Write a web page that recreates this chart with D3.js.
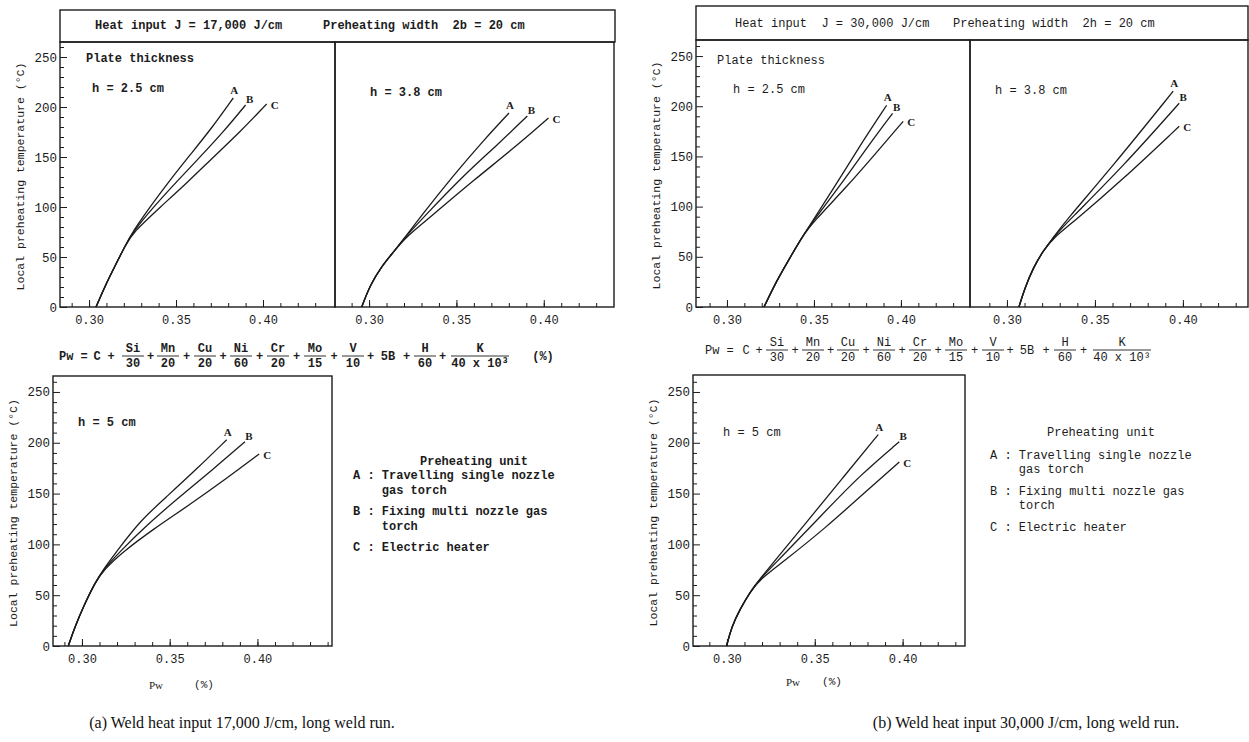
<!DOCTYPE html>
<html>
<head>
<meta charset="utf-8">
<script src="https://cdn.jsdelivr.net/npm/d3@7"></script>
<style>
  body { margin: 0; background: #fff; }
  text { white-space: pre; }
</style>
</head>
<body>
<div id="chart"></div>
<script>
//////////////////////////// DATA ////////////////////////////
// each point: [Pw (%), local preheating temperature (°C)]

// (a) 17,000 J/cm, h = 2.5 cm
var a25_A = [[0.3040,0],[0.3092,21],[0.3149,41],[0.3207,61],[0.3250,75],[0.3350,100],[0.3466,127],[0.3571,150],[0.3715,181],[0.3829,209]];
var a25_B = [[0.3040,0],[0.3092,21],[0.3149,41],[0.3207,61],[0.3252,75],[0.3370,100],[0.3513,127],[0.3638,150],[0.3772,175],[0.3900,202]];
var a25_C = [[0.3040,0],[0.3092,21],[0.3149,41],[0.3207,61],[0.3255,75],[0.3410,100],[0.3580,127],[0.3715,150],[0.3868,175],[0.4021,203]];
// (a) h = 3.8 cm
var a38_A = [[0.2958,0],[0.3006,22],[0.3073,41],[0.3140,55],[0.3207,70],[0.3293,90],[0.3485,132],[0.3657,167],[0.3801,194]];
var a38_B = [[0.2958,0],[0.3006,22],[0.3073,41],[0.3140,55],[0.3207,70],[0.3313,90],[0.3543,132],[0.3734,162],[0.3906,191]];
var a38_C = [[0.2958,0],[0.3006,22],[0.3073,41],[0.3140,55],[0.3210,70],[0.3351,90],[0.3600,127],[0.3830,159],[0.4027,189]];
// (a) h = 5 cm
var a50_A = [[0.2922,0],[0.2960,19],[0.3017,42],[0.3074,62],[0.3121,75],[0.3198,93],[0.3330,123],[0.3483,147],[0.3653,174],[0.3825,203]];
var a50_B = [[0.2922,0],[0.2960,19],[0.3017,42],[0.3074,62],[0.3121,75],[0.3217,93],[0.3369,119],[0.3558,147],[0.3748,174],[0.3929,201]];
var a50_C = [[0.2922,0],[0.2960,19],[0.3017,42],[0.3074,62],[0.3125,75],[0.3236,93],[0.3407,115],[0.3597,137],[0.3825,165],[0.4010,189]];

// (b) 30,000 J/cm, h = 2.5 cm
var b25_A = [[0.3213,0],[0.3285,26],[0.3362,49],[0.3429,69],[0.3487,84],[0.3630,123],[0.3784,166],[0.3918,201]];
var b25_B = [[0.3213,0],[0.3285,26],[0.3362,49],[0.3429,69],[0.3488,84],[0.3659,123],[0.3822,163],[0.3952,193]];
var b25_C = [[0.3213,0],[0.3285,26],[0.3362,49],[0.3429,69],[0.3492,84],[0.3690,120],[0.3855,153],[0.4013,185]];
// (b) h = 3.8 cm
var b38_A = [[0.3068,0],[0.3102,19],[0.3149,39],[0.3206,56],[0.3263,69],[0.3330,85],[0.3600,140],[0.3945,215]];
var b38_B = [[0.3068,0],[0.3102,19],[0.3149,39],[0.3206,56],[0.3263,69],[0.3345,85],[0.3660,140],[0.3979,203]];
var b38_C = [[0.3068,0],[0.3102,19],[0.3149,39],[0.3206,56],[0.3265,69],[0.3380,85],[0.3652,126],[0.3979,180]];
// (b) h = 5 cm
var b50_A = [[0.2998,0],[0.3027,19],[0.3074,36],[0.3131,53],[0.3188,66],[0.3283,86],[0.3454,122],[0.3643,162],[0.3861,208]];
var b50_B = [[0.2998,0],[0.3027,19],[0.3074,36],[0.3131,53],[0.3188,66],[0.3302,86],[0.3529,127],[0.3757,168],[0.3981,201]];
var b50_C = [[0.2998,0],[0.3027,19],[0.3074,36],[0.3131,53],[0.3190,66],[0.3321,83],[0.3560,116],[0.3790,152],[0.3981,181]];

var unitIds = ["A", "B", "C"];
var pwMajor = [0.30, 0.35, 0.40];
var tempMajor = [0, 50, 100, 150, 200, 250];
var yTitle = "Local preheating temperature (°C)";
var legendTitle = "Preheating unit";
var legendLines = ["A : Travelling single nozzle", "    gas torch", "B : Fixing multi nozzle gas", "    torch", "C : Electric heater"];
var formulaFrac = [["Si","30"],["Mn","20"],["Cu","20"],["Ni","60"],["Cr","20"],["Mo","15"],["V","10"],["5B",""],["H","60"],["K","40 x 10\u00B3"]];
var headers = [["Heat input J = 17,000 J/cm", "Preheating width  2b = 20 cm"],
               ["Heat input  J = 30,000 J/cm", "Preheating width  2h = 20 cm"]];
var captions = ["(a) Weld heat input 17,000 J/cm, long weld run.", "(b) Weld heat input 30,000 J/cm, long weld run."];

//////////////////////////// LAYOUT ////////////////////////////
var ink = "#1c1c1c";
var mono = "'Liberation Mono', 'DejaVu Sans Mono', monospace";
var serif = "'Liberation Serif', 'DejaVu Serif', serif";

var svg = d3.select("#chart")
  .append("svg")
    .attr("width", 1249)
    .attr("height", 742)
    .style("background", "#fff");

// label offsets for A / B / C at the end of each curve
var labelOff = [[1, -8], [4, -6], [8, 1]];

var panels = [
  {fig: 0, x0: 60,  x1: 335,  yTop: 42,  yBot: 307, dom: [0.2833, 0.4414], tmax: 265,   yAxis: true,  series: [a25_A, a25_B, a25_C], h: "h = 2.5 cm", hx: 92,  hy: 89,  plate: [86, 59]},
  {fig: 0, x0: 335, x1: 614,  yTop: 42,  yBot: 307, dom: [0.2805, 0.4402], tmax: 265,   yAxis: false, series: [a38_A, a38_B, a38_C], h: "h = 3.8 cm", hx: 370, hy: 93},
  {fig: 0, x0: 53,  x1: 332,  yTop: 376, yBot: 646, dom: [0.2835, 0.4425], tmax: 265.7, yAxis: true,  series: [a50_A, a50_B, a50_C], h: "h = 5 cm",   hx: 78,  hy: 423},
  {fig: 1, x0: 696, x1: 970,  yTop: 40,  yBot: 307, dom: [0.2822, 0.4397], tmax: 266,   yAxis: true,  series: [b25_A, b25_B, b25_C], h: "h = 2.5 cm", hx: 733, hy: 90,  plate: [717, 61]},
  {fig: 1, x0: 970, x1: 1248, yTop: 40,  yBot: 307, dom: [0.2790, 0.4370], tmax: 266,   yAxis: false, series: [b38_A, b38_B, b38_C], h: "h = 3.8 cm", hx: 995, hy: 91},
  {fig: 1, x0: 693, x1: 965,  yTop: 375, yBot: 646, dom: [0.2807, 0.4355], tmax: 266.7, yAxis: true,  series: [b50_A, b50_B, b50_C], h: "h = 5 cm",   hx: 723, hy: 433}
];

// smooth B-spline through the read points (the originals are drawn with a french curve)
var line = d3.line().curve(d3.curveBasis);

function styleAxis(g) {
  g.select(".domain").remove();
  g.selectAll("line").attr("stroke", ink).attr("stroke-width", 1);
  g.selectAll("text").attr("font-family", mono).attr("fill", ink);
}

//////////////////////////////////////////////
// PANELS
//////////////////////////////////////////////
panels.forEach(function(p) {
  var x = d3.scaleLinear().domain(p.dom).range([p.x0, p.x1]);
  var y = d3.scaleLinear().domain([0, p.tmax]).range([p.yBot, p.yTop]);
  var g = svg.append("g");

  // x ticks: minor every 0.01, major with labels
  var minor = d3.range(28, 45).map(function(i) { return i / 100; })
    .filter(function(v) { return v > p.dom[0] + 0.002 && v < p.dom[1] - 0.002; });
  g.append("g")
    .attr("transform", "translate(0," + p.yBot + ")")
    .call(d3.axisBottom(x).tickValues(minor).tickSize(-4).tickFormat(""))
    .call(styleAxis);
  g.append("g")
    .attr("transform", "translate(0," + p.yBot + ")")
    .call(d3.axisBottom(x).tickValues(pwMajor).tickSize(-7).tickPadding(8).tickFormat(d3.format(".2f")))
    .call(styleAxis)
    .selectAll("text").attr("font-size", "12px");

  if (p.yAxis) {
    var yMinor = d3.range(0, 261, 10).filter(function(v) { return v % 50 !== 0; });
    g.append("g")
      .attr("transform", "translate(" + p.x0 + ",0)")
      .call(d3.axisLeft(y).tickValues(yMinor).tickSize(-4).tickFormat(""))
      .call(styleAxis);
    g.append("g")
      .attr("transform", "translate(" + p.x0 + ",0)")
      .call(d3.axisLeft(y).tickValues(tempMajor).tickSize(-7).tickPadding(3))
      .call(styleAxis)
      .selectAll("text").attr("font-size", "12.5px");

    // y title
    g.append("text")
      .attr("transform", "translate(" + (p.x0 - 40) + "," + ((p.yTop + p.yBot) / 2 + 2) + ")rotate(-90)")
      .attr("text-anchor", "middle")
      .attr("dominant-baseline", "central")
      .attr("font-family", mono)
      .attr("font-size", "11.5px")
      .attr("fill", ink)
      .text(yTitle);
  }

  // frame
  g.append("rect")
    .attr("x", p.x0).attr("y", p.yTop)
    .attr("width", p.x1 - p.x0).attr("height", p.yBot - p.yTop)
    .attr("fill", "none").attr("stroke", ink).attr("stroke-width", 1.4);

  // curves
  p.series.forEach(function(s, i) {
    g.append("path")
      .attr("d", line(s.map(function(d) { return [x(d[0]), y(d[1])]; })))
      .attr("fill", "none")
      .attr("stroke", ink)
      .attr("stroke-width", 1.3);
    var last = s[s.length - 1];
    g.append("text")
      .attr("x", x(last[0]) + labelOff[i][0])
      .attr("y", y(last[1]) + labelOff[i][1])
      .attr("text-anchor", "middle")
      .attr("dominant-baseline", "central")
      .attr("font-family", serif)
      .attr("font-weight", "bold")
      .attr("font-size", "11px")
      .attr("fill", ink)
      .text(unitIds[i]);
  });

  // thickness label
  g.append("text")
    .attr("x", p.hx).attr("y", p.hy)
    .attr("dominant-baseline", "central")
    .attr("font-family", mono).attr("font-size", "12px")
    .attr("font-weight", p.fig === 0 ? "bold" : "normal")
    .attr("fill", ink)
    .text(p.h);
  if (p.plate) {
    g.append("text")
      .attr("x", p.plate[0]).attr("y", p.plate[1])
      .attr("dominant-baseline", "central")
      .attr("font-family", mono).attr("font-size", "12px")
      .attr("font-weight", p.fig === 0 ? "bold" : "normal")
      .attr("fill", ink)
      .text("Plate thickness");
  }
});

//////////////////////////////////////////////
// HEADERS, FORMULA, LEGEND, CAPTIONS
//////////////////////////////////////////////
var figs = [
  {hdr: [60, 10, 615, 42], hdrText: [95, 323], hdrY: 26,
   formula: {start: 59, y: 357, c: 97, plus0: 111, centers: [133,168,205,241,278,315,353,388,425,480], pct: 543},
   legend: {tx: 420, ty: 462, x: 353, ys: [476, 491, 512, 527, 548]},
   pw: [156, 204, 685], cap: [242, 722]},
  {hdr: [696, 6, 1248, 40], hdrText: [735, 953], hdrY: 24,
   formula: {start: 705, y: 351, c: 746, plus0: 759, centers: [777,813,848,884,920,956,993,1027,1065,1122], pct: null},
   legend: {tx: 1047, ty: 433, x: 990, ys: [456, 470, 492, 506, 528]},
   pw: [793, 832, 682], cap: [1026, 722]}
];

figs.forEach(function(f, fi) {
  var w = fi === 0 ? "bold" : "normal";
  // header box
  svg.append("rect")
    .attr("x", f.hdr[0]).attr("y", f.hdr[1])
    .attr("width", f.hdr[2] - f.hdr[0]).attr("height", f.hdr[3] - f.hdr[1])
    .attr("fill", "none").attr("stroke", ink).attr("stroke-width", 1.4);
  headers[fi].forEach(function(t, i) {
    svg.append("text")
      .attr("x", f.hdrText[i]).attr("y", f.hdrY)
      .attr("dominant-baseline", "central")
      .attr("font-family", mono).attr("font-size", "12px").attr("font-weight", w)
      .attr("fill", ink).text(t);
  });

  // formula
  var fm = f.formula;
  var fg = svg.append("g").attr("font-family", mono).attr("font-size", "12px")
    .attr("font-weight", w).attr("fill", ink);
  fg.append("text").attr("x", fm.start).attr("y", fm.y).attr("dominant-baseline", "central").text("Pw =");
  fg.append("text").attr("x", fm.c).attr("y", fm.y).attr("text-anchor", "middle").attr("dominant-baseline", "central").text("C");
  fg.append("text").attr("x", fm.plus0).attr("y", fm.y).attr("text-anchor", "middle").attr("dominant-baseline", "central").text("+");
  formulaFrac.forEach(function(fr, i) {
    var cx = fm.centers[i];
    if (fr[1] === "") {
      fg.append("text").attr("x", cx).attr("y", fm.y).attr("text-anchor", "middle").attr("dominant-baseline", "central").text(fr[0]);
    } else {
      var half = fr[1].length > 2 ? 29 : 11;
      fg.append("line").attr("x1", cx - half).attr("x2", cx + half)
        .attr("y1", fm.y - 1).attr("y2", fm.y - 1).attr("stroke", ink).attr("stroke-width", 0.9);
      fg.append("text").attr("x", cx).attr("y", fm.y - 8).attr("text-anchor", "middle").attr("dominant-baseline", "central").text(fr[0]);
      fg.append("text").attr("x", cx).attr("y", fm.y + 7).attr("text-anchor", "middle").attr("dominant-baseline", "central").text(fr[1]);
    }
    if (i < formulaFrac.length - 1) {
      var nx = fm.centers[i + 1];
      var shift = (i + 1 === formulaFrac.length - 1) ? -10 : 0;
      fg.append("text").attr("x", (cx + nx) / 2 + shift).attr("y", fm.y).attr("text-anchor", "middle").attr("dominant-baseline", "central").text("+");
    }
  });
  if (fm.pct) {
    fg.append("text").attr("x", fm.pct).attr("y", fm.y).attr("text-anchor", "middle").attr("dominant-baseline", "central").text("(%)");
  }

  // legend
  var lg = f.legend;
  svg.append("text").attr("x", lg.tx).attr("y", lg.ty).attr("dominant-baseline", "central")
    .attr("font-family", mono).attr("font-size", "12px").attr("font-weight", w).attr("fill", ink)
    .text(legendTitle);
  legendLines.forEach(function(t, i) {
    svg.append("text").attr("x", lg.x).attr("y", lg.ys[i]).attr("dominant-baseline", "central")
      .attr("font-family", mono).attr("font-size", "12px").attr("font-weight", w).attr("fill", ink)
      .text(t);
  });

  // x title
  svg.append("text").attr("x", f.pw[0]).attr("y", f.pw[2]).attr("text-anchor", "middle")
    .attr("dominant-baseline", "central").attr("font-family", serif).attr("font-size", "11px").attr("fill", ink).text("Pw");
  svg.append("text").attr("x", f.pw[1]).attr("y", f.pw[2]).attr("text-anchor", "middle")
    .attr("dominant-baseline", "central").attr("font-family", mono).attr("font-size", "11px").attr("fill", ink).text("(%)");

  // caption
  svg.append("text").attr("x", f.cap[0]).attr("y", f.cap[1]).attr("text-anchor", "middle")
    .attr("dominant-baseline", "central").attr("font-family", serif).attr("font-size", "16px").attr("fill", "#111")
    .text(captions[fi]);
});
</script>
</body>
</html>
